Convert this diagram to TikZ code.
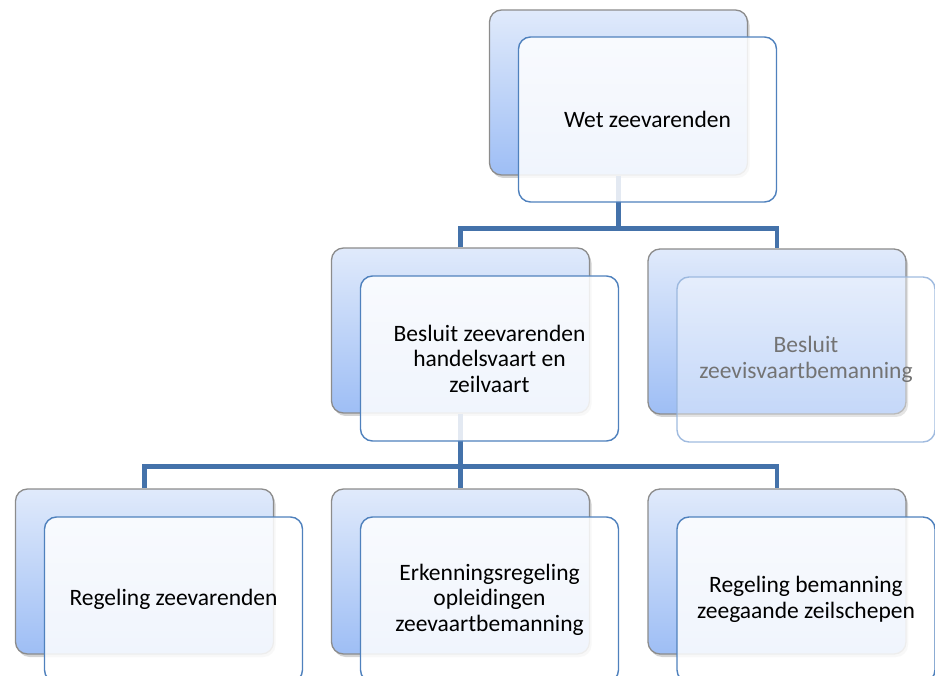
\documentclass[tikz,border=0pt]{standalone}
\usepackage{fontspec}
\setmainfont{Carlito}
\usepackage{tikz}
\usetikzlibrary{shapes, arrows.meta, positioning, shadows, calc}
\definecolor{linkblue}{RGB}{68,114,170}
\definecolor{edgeblue}{RGB}{79,129,189}
\definecolor{paleedge}{RGB}{150,180,220}
\definecolor{shadetop}{RGB}{224,234,251}
\definecolor{shadebot}{RGB}{158,190,245}
\tikzset{
    backbox/.style={rectangle, draw=black!45, line width=1.3pt, rounded corners=12pt, top color=shadetop, bottom color=shadebot, minimum width=258pt, minimum height=165pt, inner sep=0pt, drop shadow={opacity=0.35, shadow xshift=2pt, shadow yshift=-3pt}},
    frontbox/.style={rectangle, draw=edgeblue, line width=1.4pt, rounded corners=12pt, fill=white, fill opacity=0.85, text opacity=1, align=center, minimum width=258pt, minimum height=165pt, inner sep=0pt, font=\fontsize{23.5}{25.5}\selectfont},
    fadedbox/.style={frontbox, draw=paleedge, fill opacity=0.4, draw opacity=0.9, text=black!55},
    link/.style={line width=4.5pt, draw=linkblue}
}

\begin{document}
\begin{tikzpicture}[x=1pt, y=-1pt]
    \clip (0,0) rectangle (935,676);
    \node[backbox] (wetback) at (618.5,92.5) {};
    \node[backbox] (bzhback) at (460.5,330.5) {};
    \node[backbox] (bzvback) at (777,331.5) {};
    \node[backbox] (rzback) at (144.5,571.5) {};
    \node[backbox] (erback) at (460.5,571.5) {};
    \node[backbox] (rbback) at (777,571.5) {};

    \draw[link] (wetback.south) -- ++(0,53) coordinate (topsplit);
    \draw[link] (bzhback.north) |- (topsplit) -| (bzvback.north);
    \draw[link] (bzhback.south) -- ++(0,53) coordinate (midsplit);
    \draw[link] (rzback.north) |- (midsplit) -| (rbback.north);
    \draw[link] (midsplit) -- (erback.north);

    \node[frontbox, xshift=29pt, yshift=-27pt] (wet) at (wetback) {Wet zeevarenden};
    \node[frontbox, xshift=29pt, yshift=-28pt] (bzh) at (bzhback) {Besluit zeevarenden\\handelsvaart en\\zeilvaart};
    \node[fadedbox, xshift=29pt, yshift=-28pt] (bzv) at (bzvback) {Besluit\\zeevisvaartbemanning};
    \node[frontbox, xshift=29pt, yshift=-28pt] (rz) at (rzback) {Regeling zeevarenden};
    \node[frontbox, xshift=29pt, yshift=-28pt] (er) at (erback) {Erkenningsregeling\\opleidingen\\zeevaartbemanning};
    \node[frontbox, xshift=29pt, yshift=-28pt] (rb) at (rbback) {Regeling bemanning\\zeegaande zeilschepen};
\end{tikzpicture}
\end{document}
